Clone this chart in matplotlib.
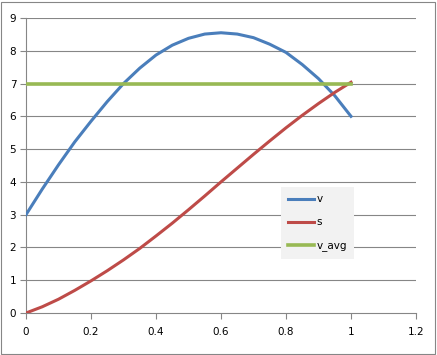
import matplotlib

matplotlib.use("Agg")
import matplotlib.pyplot as plt
from matplotlib.patches import Rectangle

# values
t = [0.0, 0.05, 0.1, 0.15, 0.2, 0.25, 0.3, 0.35, 0.4, 0.45, 0.5,
     0.55, 0.6, 0.65, 0.7, 0.75, 0.8, 0.85, 0.9, 0.95, 1.0]
v = [3.0, 3.78, 4.52, 5.22, 5.85, 6.45, 7.0, 7.47, 7.87, 8.17, 8.38,
     8.51, 8.55, 8.51, 8.40, 8.20, 7.95, 7.58, 7.15, 6.63, 6.0]
s = [0.0, 0.19, 0.42, 0.69, 0.98, 1.29, 1.62, 1.97, 2.35, 2.74, 3.15,
     3.57, 4.0, 4.42, 4.84, 5.25, 5.65, 6.03, 6.39, 6.73, 7.04]
v_avg = [7.0] * len(t)

x_ticks = [0, 0.2, 0.4, 0.6, 0.8, 1, 1.2]
x_tick_labels = ["0", "0.2", "0.4", "0.6", "0.8", "1", "1.2"]
y_ticks = list(range(0, 10))

W, H = 437, 355
fig = plt.figure(figsize=(W / 100, H / 100), dpi=100)
ax = fig.add_axes([26 / W, 1 - 313 / H, 390 / W, 295 / H])

grid_col = "#868686"
for y in y_ticks[1:]:
    ax.axhline(y, color=grid_col, lw=0.8, zorder=1)

ax.plot(t, v, color="#4a7ebb", lw=2.2, label="v", zorder=3,
        solid_joinstyle="round")
ax.plot(t, s, color="#be4b48", lw=2.2, label="s", zorder=3,
        solid_joinstyle="round")
ax.plot(t, v_avg, color="#98b954", lw=2.6, label="v_avg", zorder=3)

ax.set_xlim(0, 1.2)
ax.set_ylim(0, 9)
ax.set_xticks(x_ticks)
ax.set_xticklabels(x_tick_labels)
ax.set_yticks(y_ticks)

for side in ("top", "right"):
    ax.spines[side].set_visible(False)
for side in ("left", "bottom"):
    ax.spines[side].set_color(grid_col)
    ax.spines[side].set_linewidth(0.8)

ax.tick_params(axis="both", direction="out", length=4, width=0.8,
               color=grid_col, labelsize=7.5, labelcolor="black", pad=3)
ax.tick_params(axis="x", pad=6)

leg = ax.legend(loc="upper left", bbox_to_anchor=(281 / W, 1 - 187 / H),
                bbox_transform=fig.transFigure, fontsize=7.5, frameon=True,
                fancybox=False, handlelength=2.5, handletextpad=0.2,
                labelspacing=1.25, borderpad=0.7, borderaxespad=0)
leg.get_frame().set_facecolor("#f2f2f2")
leg.get_frame().set_edgecolor("none")
leg.get_frame().set_alpha(1)

# chart area border
fig.patches.append(Rectangle((1 / W, 1 / H), 1 - 3 / W, 1 - 3 / H,
                             transform=fig.transFigure, fill=False,
                             edgecolor=grid_col, lw=0.8))

fig.savefig("out.png", dpi=100)
